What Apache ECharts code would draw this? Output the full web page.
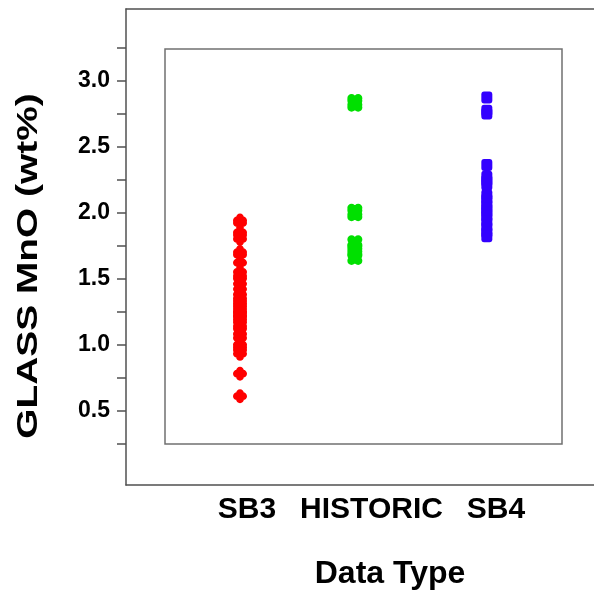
<!DOCTYPE html>
<html>
<head>
<meta charset="utf-8">
<script src="https://cdn.jsdelivr.net/npm/echarts@6/dist/echarts.min.js"></script>
<style>html,body{margin:0;padding:0;background:#fff}#c{width:594px;height:592px}</style>
</head>
<body>
<div id="c"></div>
<script>
// ---- data ----
const categories = ['SB3', 'HISTORIC', 'SB4'];
const categoryX = [0.2436, 0.489, 0.771];           // horizontal placement of each group (fraction of x axis)
const sb3 = [1.94, 1.92, 1.85, 1.83, 1.80, 1.70, 1.68, 1.62, 1.55, 1.52, 1.50, 1.46, 1.42, 1.38, 1.35, 1.33, 1.31, 1.29, 1.27, 1.25, 1.24, 1.22, 1.21, 1.19, 1.17, 1.14, 1.12, 1.08, 1.05, 1.00, 0.98, 0.96, 0.93, 0.78, 0.61];
const historic = [2.84, 2.82, 2.01, 1.99, 1.77, 1.73, 1.70, 1.66];
const sb4 = [2.87, 2.77, 2.75, 2.36, 2.27, 2.24, 2.21, 2.13, 2.10, 2.06, 2.03, 2.00, 1.97, 1.93, 1.89, 1.85, 1.82];
const yTickValues = [0.25, 0.5, 0.75, 1.0, 1.25, 1.5, 1.75, 2.0, 2.25, 2.5, 2.75, 3.0, 3.25];
const yLabelValues = [0.5, 1.0, 1.5, 2.0, 2.5, 3.0];
const yTitle = 'GLASS MnO (wt%)';
const xTitle = 'Data Type';

const FONT = '"Liberation Sans", Arial, sans-serif';

// symbol shapes built from clockwise circles + a centre square (union, nonzero fill)
function circ(cx, cy, r) {
  const k = 0.5523 * r;
  return `M${cx},${cy - r} C${cx + k},${cy - r} ${cx + r},${cy - k} ${cx + r},${cy} ` +
         `C${cx + r},${cy + k} ${cx + k},${cy + r} ${cx},${cy + r} ` +
         `C${cx - k},${cy + r} ${cx - r},${cy + k} ${cx - r},${cy} ` +
         `C${cx - r},${cy - k} ${cx - k},${cy - r} ${cx},${cy - r} Z `;
}
const sq = 'M3,3 L7,3 L7,7 L3,7 Z ';
const plusPath = 'path://' + circ(5, 2.8, 2.8) + circ(7.2, 5, 2.8) + circ(5, 7.2, 2.8) + circ(2.8, 5, 2.8) + sq;
const crossPath = 'path://' + circ(2.8, 2.8, 2.8) + circ(7.2, 2.8, 2.8) + circ(7.2, 7.2, 2.8) + circ(2.8, 7.2, 2.8) + 'M2.5,2.5 L7.5,2.5 L7.5,7.5 L2.5,7.5 Z';

const chart = echarts.init(document.getElementById('c'), null, {renderer: 'canvas'});
const axisColor = '#505050';

function pts(i, arr) { return arr.map(v => [categoryX[i], v]); }

chart.setOption({
  animation: false,
  grid: [
    {left: 126, top: 9, right: 0, bottom: 107, show: false, outerBoundsMode: 'none', containLabel: false},
    {left: 165, top: 49, width: 397, height: 395, show: true, borderColor: '#707070', borderWidth: 1.5, backgroundColor: 'transparent', outerBoundsMode: 'none', containLabel: false},
    {left: 184.75, width: 373.5, top: 9, bottom: 107, show: false, outerBoundsMode: 'none', containLabel: false}
  ],
  xAxis: [
    {gridIndex: 0, type: 'value', min: 0, max: 1, position: 'bottom',
     axisLine: {show: true, onZero: false, lineStyle: {color: axisColor, width: 1.5}}, axisTick: {show: false}, axisLabel: {show: false}, splitLine: {show: false}},
    {gridIndex: 0, type: 'value', min: 0, max: 1, position: 'top',
     axisLine: {show: true, onZero: false, lineStyle: {color: axisColor, width: 1.5}}, axisTick: {show: false}, axisLabel: {show: false}, splitLine: {show: false}},
    {gridIndex: 1, type: 'value', min: 0, max: 1, show: false},
    {gridIndex: 2, type: 'category', data: categories, position: 'bottom',
     axisLine: {show: false, onZero: false}, axisTick: {show: false}, splitLine: {show: false},
     axisLabel: {show: true, interval: 0, hideOverlap: false, margin: 10, color: '#000', fontFamily: FONT, fontWeight: 'bold', fontSize: 30},
     name: xTitle, nameLocation: 'middle', nameGap: 73,
     nameTextStyle: {color: '#000', fontFamily: FONT, fontWeight: 'bold', fontSize: 32, padding: [0, 0, 0, 37]}}
  ],
  yAxis: [
    {gridIndex: 0, type: 'value', min: -0.0625, max: 3.54, position: 'left',
     axisLine: {show: true, onZero: false, lineStyle: {color: axisColor, width: 1.5}},
     axisTick: {show: true, inside: false, length: 9, customValues: yTickValues, lineStyle: {color: axisColor, width: 1.5}},
     axisLabel: {show: true, customValues: yLabelValues, margin: 16, color: '#000', fontFamily: FONT, fontWeight: 'bold', fontSize: 23,
       formatter: v => v.toFixed(1)},
     splitLine: {show: false}},
    {gridIndex: 1, type: 'value', min: 0.25, max: 3.25, show: false},
    {gridIndex: 2, type: 'value', min: 0, max: 1, show: false}
  ],
  graphic: [{
    type: 'text', z: 10, x: 29, y: 266, rotation: Math.PI / 2, scaleX: 1.34, scaleY: 1,
    style: {text: yTitle, fill: '#000', font: 'bold 29px ' + FONT, textAlign: 'center', textVerticalAlign: 'middle'}
  }],
  series: [
    {type: 'scatter', xAxisIndex: 0, yAxisIndex: 0, data: pts(0, sb3), symbol: plusPath, symbolSize: 14,
     itemStyle: {color: '#ff0000', opacity: 1}},
    {type: 'scatter', xAxisIndex: 0, yAxisIndex: 0, data: pts(1, historic), symbol: crossPath, symbolSize: 15,
     itemStyle: {color: '#00e000', opacity: 1}},
    {type: 'scatter', xAxisIndex: 0, yAxisIndex: 0, data: pts(2, sb4), symbol: 'roundRect', symbolSize: [11, 12],
     itemStyle: {color: '#3300ff', opacity: 1}}
  ]
});
</script>
</body>
</html>
